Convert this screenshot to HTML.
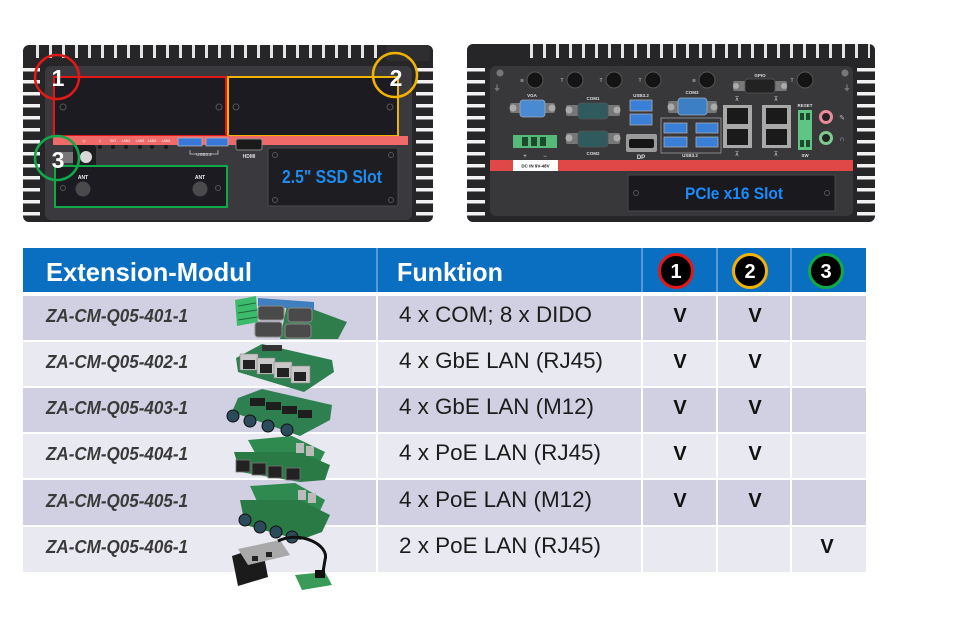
<!DOCTYPE html>
<html><head><meta charset="utf-8"><style>
html,body{margin:0;padding:0;background:#fff;}
svg{display:block;font-family:"Liberation Sans",Arial,sans-serif;}
</style></head><body>
<svg width="960" height="640" viewBox="0 0 960 640" xmlns="http://www.w3.org/2000/svg">
<defs>
<pattern id="vg" x="0" y="0" width="13" height="30" patternUnits="userSpaceOnUse"><rect x="10" width="3" height="30" fill="#e4e4e4"/></pattern>
<pattern id="hg" x="0" y="0" width="30" height="12" patternUnits="userSpaceOnUse"><rect y="8" width="30" height="3.5" fill="#f2f2f2"/></pattern>
</defs>
<rect width="960" height="640" fill="#fff"/>

<!-- ============ LEFT DEVICE ============ -->
<rect x="23" y="45" width="410" height="177" rx="6" fill="#262628"/>
<rect x="32" y="45" width="352" height="13" fill="url(#vg)"/>
<rect x="386" y="45" width="44" height="16" rx="3" fill="#2e2e30"/>
<rect x="23" y="66" width="17" height="150" fill="url(#hg)"/>
<rect x="416" y="66" width="17" height="150" fill="url(#hg)"/>
<rect x="45" y="66" width="367" height="154" rx="6" fill="#3a3a3e"/>
<!-- slot 1 / 2 -->
<rect x="54" y="77" width="172" height="59" fill="#1c1b21" stroke="#e01818" stroke-width="2"/>
<rect x="228" y="77" width="170" height="59" fill="#1c1b21" stroke="#f2b300" stroke-width="2"/>
<g fill="none" stroke="#555" stroke-width="1"><circle cx="63" cy="107" r="3"/><circle cx="219" cy="107" r="3"/><circle cx="236" cy="107" r="3"/><circle cx="390" cy="107" r="3"/></g>
<!-- strip -->
<rect x="53" y="136" width="355" height="9" fill="#f06a6a"/>
<g fill="#fff" font-size="3.5" text-anchor="middle"><text x="84" y="142">◎</text><text x="100" y="142">▯</text><text x="113" y="142">SIO</text><text x="126" y="142">LAN1</text><text x="140" y="142">LAN2</text><text x="152" y="142">LAN3</text><text x="166" y="142">LAN4</text></g>
<g fill="#1a1a1a"><circle cx="86" cy="147" r="2"/><circle cx="100" cy="147" r="2"/><circle cx="113" cy="147" r="2"/><circle cx="126" cy="147" r="2"/><circle cx="140" cy="147" r="2"/><circle cx="152" cy="147" r="2"/><circle cx="166" cy="147" r="2"/></g>
<rect x="178" y="138" width="24" height="8" fill="#3878d8" stroke="#bbb" stroke-width="0.7"/>
<rect x="206" y="138" width="22" height="8" fill="#3878d8" stroke="#bbb" stroke-width="0.7"/>
<path d="M190 150 V154 H218 V150" fill="none" stroke="#ccc" stroke-width="0.7"/>
<text x="204" y="156" font-size="4.5" fill="#ddd" text-anchor="middle">USB3.2</text>
<rect x="236" y="139" width="26" height="11" rx="2" fill="#1a1a1a" stroke="#888" stroke-width="1"/>
<text x="249" y="158" font-size="5" font-weight="bold" fill="#ddd" text-anchor="middle">HDMI</text>
<rect x="60" y="152" width="13" height="11" fill="#777"/>
<rect x="73" y="145" width="23" height="22" rx="3" fill="#1d1d20"/>
<circle cx="86" cy="157" r="6" fill="#d8d8d8"/>
<!-- SSD -->
<rect x="268" y="148" width="130" height="58" rx="2" fill="#1e1d22" stroke="#4a4a4e" stroke-width="1"/>
<g fill="none" stroke="#555"><circle cx="275" cy="155" r="2.5"/><circle cx="391" cy="155" r="2.5"/><circle cx="275" cy="200" r="2.5"/><circle cx="391" cy="200" r="2.5"/></g>
<text x="282" y="183" font-size="18" font-weight="bold" fill="#1d8cf0" textLength="100" lengthAdjust="spacingAndGlyphs">2.5" SSD Slot</text>
<!-- slot 3 -->
<rect x="55" y="166" width="172" height="41" fill="#1c1b21" stroke="#11a84a" stroke-width="2"/>
<circle cx="83" cy="189" r="7.5" fill="#4a4a4c"/><circle cx="200" cy="189" r="7.5" fill="#4a4a4c"/>
<text x="83" y="179" font-size="5" font-weight="bold" fill="#eee" text-anchor="middle">ANT</text>
<text x="200" y="179" font-size="5" font-weight="bold" fill="#eee" text-anchor="middle">ANT</text>
<g fill="none" stroke="#555"><circle cx="63" cy="188" r="2.5"/><circle cx="218" cy="188" r="2.5"/></g>
<!-- numbered circles -->
<circle cx="57" cy="77" r="22" fill="none" stroke="#e01818" stroke-width="2.5"/>
<text x="58" y="86" font-size="23" font-weight="bold" fill="#fff" text-anchor="middle">1</text>
<circle cx="395" cy="75" r="22" fill="none" stroke="#f2b300" stroke-width="2.5"/>
<text x="396" y="86" font-size="23" font-weight="bold" fill="#fff" text-anchor="middle">2</text>
<circle cx="57" cy="158" r="22" fill="none" stroke="#11a84a" stroke-width="2.5"/>
<text x="58" y="168" font-size="23" font-weight="bold" fill="#fff" text-anchor="middle">3</text>

<!-- ============ RIGHT DEVICE ============ -->
<rect x="467" y="44" width="408" height="178" rx="6" fill="#262628"/>
<rect x="520" y="44" width="350" height="14" fill="url(#vg)"/>
<rect x="467" y="68" width="18" height="148" fill="url(#hg)"/>
<rect x="857" y="68" width="18" height="148" fill="url(#hg)"/>
<rect x="490" y="66" width="363" height="150" rx="6" fill="#38383b"/>
<g fill="#777"><circle cx="500" cy="73" r="3.5"/><circle cx="845" cy="73" r="3.5"/></g>
<g fill="#ccc" font-size="7" text-anchor="middle"><text x="497" y="90">⏚</text><text x="847" y="90">⏚</text></g>
<!-- antennas -->
<g fill="#141414" stroke="#555" stroke-width="1">
<circle cx="535" cy="80" r="8"/><circle cx="575" cy="80" r="8"/><circle cx="614" cy="80" r="8"/><circle cx="653" cy="80" r="8"/><circle cx="707" cy="80" r="8"/><circle cx="805" cy="80" r="8"/></g>
<g fill="#ccc" font-size="5" text-anchor="middle"><text x="522" y="82">≋</text><text x="562" y="82">T</text><text x="601" y="82">T</text><text x="640" y="82">T</text><text x="694" y="82">≋</text><text x="792" y="82">T</text></g>
<!-- labels -->
<g fill="#ddd" font-size="4.5" font-weight="bold" text-anchor="middle">
<text x="532" y="97">VGA</text><text x="593" y="100">COM1</text><text x="641" y="97">USB3.2</text><text x="692" y="94">COM3</text><text x="760" y="77">GPIO</text><text x="805" y="107">RESET</text><text x="593" y="155">COM2</text><text x="805" y="157">SW</text><text x="690" y="157">USB3.2</text></g>
<!-- VGA -->
<rect x="510" y="103" width="45" height="10" rx="2" fill="#777"/>
<circle cx="513" cy="108" r="3.5" fill="#aaa"/><circle cx="552" cy="108" r="3.5" fill="#aaa"/>
<rect x="520" y="100" width="25" height="17" rx="3" fill="#4a8ad0" stroke="#9ab" stroke-width="0.8"/>
<!-- COM1/COM2 -->
<rect x="566" y="105" width="54" height="11" rx="2" fill="#777"/>
<circle cx="569" cy="110" r="3.5" fill="#aaa"/><circle cx="617" cy="110" r="3.5" fill="#aaa"/>
<rect x="578" y="103" width="30" height="16" rx="3" fill="#2f5a5e" stroke="#555" stroke-width="0.8"/>
<rect x="566" y="133" width="54" height="11" rx="2" fill="#777"/>
<circle cx="569" cy="138" r="3.5" fill="#aaa"/><circle cx="617" cy="138" r="3.5" fill="#aaa"/>
<rect x="578" y="131" width="30" height="16" rx="3" fill="#2f5a5e" stroke="#555" stroke-width="0.8"/>
<!-- DC terminal -->
<rect x="513" y="135" width="44" height="13" fill="#55b97a"/>
<g fill="#1e4a2c"><rect x="522" y="137" width="6" height="9"/><rect x="531" y="137" width="6" height="9"/><rect x="540" y="137" width="6" height="9"/></g>
<g fill="#ddd" font-size="6" text-anchor="middle"><text x="525" y="158">+</text><text x="545" y="158">−</text></g>
<!-- USB stack / DP -->
<rect x="630" y="100" width="22" height="11" fill="#3a80d8" stroke="#aaa" stroke-width="0.8"/>
<rect x="630" y="114" width="22" height="11" fill="#3a80d8" stroke="#aaa" stroke-width="0.8"/>
<rect x="626" y="134" width="31" height="18" rx="2" fill="#9a9a9a"/>
<rect x="629" y="139" width="25" height="9" rx="2" fill="#151515"/>
<text x="641" y="159" font-size="6" font-weight="bold" fill="#ddd" text-anchor="middle">DP</text>
<!-- COM3 -->
<rect x="668" y="101" width="49" height="12" rx="2" fill="#777"/>
<circle cx="671" cy="107" r="3.5" fill="#aaa"/><circle cx="714" cy="107" r="3.5" fill="#aaa"/>
<rect x="678" y="98" width="29" height="17" rx="3" fill="#3d7fc5" stroke="#9ab" stroke-width="0.8"/>
<!-- USB x4 -->
<rect x="661" y="118" width="60" height="35" fill="none" stroke="#888" stroke-width="1"/>
<g fill="#3a80d8" stroke="#aaa" stroke-width="0.8"><rect x="664" y="123" width="23" height="10"/><rect x="696" y="123" width="22" height="10"/><rect x="664" y="137" width="23" height="10"/><rect x="696" y="137" width="22" height="10"/></g>
<!-- LAN -->
<rect x="723" y="105" width="29" height="43" fill="#a8a8a8"/>
<rect x="727" y="108" width="21" height="16" fill="#1a1a1a"/><rect x="727" y="129" width="21" height="16" fill="#1a1a1a"/>
<rect x="762" y="105" width="29" height="43" fill="#a8a8a8"/>
<rect x="766" y="108" width="21" height="16" fill="#1a1a1a"/><rect x="766" y="129" width="21" height="16" fill="#1a1a1a"/>
<g fill="#ccc" font-size="6" text-anchor="middle"><text x="737" y="101">⊼</text><text x="776" y="101">⊼</text><text x="737" y="156">⊼</text><text x="776" y="156">⊼</text></g>
<!-- GPIO -->
<rect x="733" y="81" width="54" height="10" rx="2" fill="#777"/>
<circle cx="736" cy="86" r="3" fill="#aaa"/><circle cx="784" cy="86" r="3" fill="#aaa"/>
<rect x="745" y="79" width="30" height="14" rx="3" fill="#222" stroke="#555" stroke-width="0.8"/>
<!-- reset terminal -->
<rect x="798" y="110" width="14" height="40" fill="#5fc584"/>
<g fill="#1e4a2c"><rect x="800" y="113" width="4" height="7"/><rect x="806" y="113" width="4" height="7"/><rect x="800" y="140" width="4" height="7"/><rect x="806" y="140" width="4" height="7"/></g>
<!-- audio -->
<circle cx="826" cy="117" r="5.5" fill="#222" stroke="#e88a9a" stroke-width="3"/>
<circle cx="826" cy="138" r="5.5" fill="#222" stroke="#7ec890" stroke-width="3"/>
<g fill="#bbb" font-size="7" text-anchor="middle"><text x="842" y="120">✎</text><text x="842" y="141">∩</text></g>
<!-- red strip -->
<rect x="490" y="160" width="363" height="11" fill="#e04848"/>
<rect x="513" y="160" width="45" height="11" fill="#fff"/>
<text x="535.5" y="167.5" font-size="4.5" font-weight="bold" fill="#222" text-anchor="middle">DC IN 9V-48V</text>
<!-- PCIe -->
<rect x="628" y="175" width="207" height="36" fill="#1a1a1e" stroke="#48484c" stroke-width="1"/>
<g fill="none" stroke="#555"><circle cx="636" cy="193" r="2.5"/><circle cx="827" cy="193" r="2.5"/></g>
<text x="685" y="199" font-size="17" font-weight="bold" fill="#1a8cff" textLength="98" lengthAdjust="spacingAndGlyphs">PCIe x16 Slot</text>

<!-- ============ TABLE ============ -->
<rect x="23" y="248" width="843" height="44" fill="#0b6fc1"/>
<g stroke="#6fa8e0" stroke-width="1.5"><line x1="377" y1="248" x2="377" y2="292"/><line x1="642" y1="248" x2="642" y2="292"/><line x1="717" y1="248" x2="717" y2="292"/><line x1="791" y1="248" x2="791" y2="292"/></g>
<text x="46" y="281" font-size="26" font-weight="bold" fill="#fff" textLength="206" lengthAdjust="spacingAndGlyphs">Extension-Modul</text>
<text x="397" y="281" font-size="26" font-weight="bold" fill="#fff" textLength="106" lengthAdjust="spacingAndGlyphs">Funktion</text>
<circle cx="676" cy="271" r="16.5" fill="#000" stroke="#e01818" stroke-width="3"/>
<circle cx="750" cy="271" r="16.5" fill="#000" stroke="#f2b300" stroke-width="3"/>
<circle cx="826" cy="271" r="16.5" fill="#000" stroke="#11a84a" stroke-width="3"/>
<g font-size="20" font-weight="bold" fill="#fff" text-anchor="middle"><text x="676" y="278">1</text><text x="750" y="278">2</text><text x="826" y="278">3</text></g>

<!-- rows -->
<g fill="#d0d0e2">
<rect x="23" y="296" width="353" height="44"/><rect x="378" y="296" width="263" height="44"/><rect x="643" y="296" width="73" height="44"/><rect x="718" y="296" width="72" height="44"/><rect x="792" y="296" width="74" height="44"/>
<rect x="23" y="388" width="353" height="44"/><rect x="378" y="388" width="263" height="44"/><rect x="643" y="388" width="73" height="44"/><rect x="718" y="388" width="72" height="44"/><rect x="792" y="388" width="74" height="44"/>
<rect x="23" y="480" width="353" height="45"/><rect x="378" y="480" width="263" height="45"/><rect x="643" y="480" width="73" height="45"/><rect x="718" y="480" width="72" height="45"/><rect x="792" y="480" width="74" height="45"/>
</g>
<g fill="#e9e9f1">
<rect x="23" y="342" width="353" height="44"/><rect x="378" y="342" width="263" height="44"/><rect x="643" y="342" width="73" height="44"/><rect x="718" y="342" width="72" height="44"/><rect x="792" y="342" width="74" height="44"/>
<rect x="23" y="434" width="353" height="44"/><rect x="378" y="434" width="263" height="44"/><rect x="643" y="434" width="73" height="44"/><rect x="718" y="434" width="72" height="44"/><rect x="792" y="434" width="74" height="44"/>
<rect x="23" y="527" width="353" height="45"/><rect x="378" y="527" width="263" height="45"/><rect x="643" y="527" width="73" height="45"/><rect x="718" y="527" width="72" height="45"/><rect x="792" y="527" width="74" height="45"/>
</g>

<g font-size="18" font-weight="bold" font-style="italic" fill="#3a3a3a">
<text x="46" y="322" textLength="142" lengthAdjust="spacingAndGlyphs">ZA-CM-Q05-401-1</text>
<text x="46" y="368" textLength="142" lengthAdjust="spacingAndGlyphs">ZA-CM-Q05-402-1</text>
<text x="46" y="414" textLength="142" lengthAdjust="spacingAndGlyphs">ZA-CM-Q05-403-1</text>
<text x="46" y="460" textLength="142" lengthAdjust="spacingAndGlyphs">ZA-CM-Q05-404-1</text>
<text x="46" y="507" textLength="142" lengthAdjust="spacingAndGlyphs">ZA-CM-Q05-405-1</text>
<text x="46" y="553" textLength="142" lengthAdjust="spacingAndGlyphs">ZA-CM-Q05-406-1</text>
</g>
<g font-size="22" fill="#1c1c1c">
<text x="399" y="322" textLength="193" lengthAdjust="spacingAndGlyphs">4 x COM; 8 x DIDO</text>
<text x="399" y="368" textLength="204" lengthAdjust="spacingAndGlyphs">4 x GbE LAN (RJ45)</text>
<text x="399" y="414" textLength="195" lengthAdjust="spacingAndGlyphs">4 x GbE LAN (M12)</text>
<text x="399" y="460" textLength="202" lengthAdjust="spacingAndGlyphs">4 x PoE LAN (RJ45)</text>
<text x="399" y="507" textLength="193" lengthAdjust="spacingAndGlyphs">4 x PoE LAN (M12)</text>
<text x="399" y="553" textLength="202" lengthAdjust="spacingAndGlyphs">2 x PoE LAN (RJ45)</text>
</g>
<g font-size="20" font-weight="bold" fill="#111" text-anchor="middle">
<text x="680" y="322">V</text><text x="755" y="322">V</text>
<text x="680" y="368">V</text><text x="755" y="368">V</text>
<text x="680" y="414">V</text><text x="755" y="414">V</text>
<text x="680" y="460">V</text><text x="755" y="460">V</text>
<text x="680" y="507">V</text><text x="755" y="507">V</text>
<text x="827" y="553">V</text>
</g>

<!-- module pictures -->
<!-- row1 -->
<polygon points="288,300 347,322 338,339 280,339" fill="#2f7d4a"/>
<polygon points="235,300 256,296 258,322 237,326" fill="#3dbb6c"/>
<g stroke="#1e6a3a" stroke-width="1"><line x1="238" y1="306" x2="256" y2="303"/><line x1="238" y1="313" x2="257" y2="310"/><line x1="238" y1="320" x2="257" y2="317"/></g>
<polygon points="258,298 314,302 314,310 258,306" fill="#3f7fbf"/>
<g fill="#4a4a4a" stroke="#8a8a8a" stroke-width="1">
<rect x="258" y="306" width="26" height="14" rx="3"/><rect x="288" y="308" width="24" height="14" rx="3"/>
<rect x="255" y="322" width="27" height="15" rx="3"/><rect x="285" y="324" width="26" height="14" rx="3"/></g>
<!-- row2 -->
<polygon points="236,358 262,344 332,360 334,372 304,392 238,372" fill="#2f8050"/>
<rect x="262" y="345" width="20" height="6" fill="#333"/>
<g fill="#c8c8c8" stroke="#888" stroke-width="0.6">
<rect x="240" y="354" width="18" height="16"/><rect x="257" y="358" width="18" height="16"/><rect x="274" y="362" width="18" height="16"/><rect x="291" y="366" width="19" height="17"/></g>
<g fill="#222"><rect x="243" y="360" width="12" height="9"/><rect x="260" y="364" width="12" height="9"/><rect x="277" y="368" width="12" height="9"/><rect x="294" y="372" width="12" height="9"/></g>
<!-- row3 -->
<polygon points="238,398 262,389 332,405 330,420 300,436 232,412" fill="#2f8050"/>
<g fill="#1e1e1e"><rect x="250" y="398" width="15" height="8"/><rect x="266" y="402" width="15" height="8"/><rect x="282" y="406" width="15" height="8"/><rect x="298" y="410" width="14" height="8"/></g>
<g fill="#2b4a5a" stroke="#111" stroke-width="1"><circle cx="233" cy="416" r="6"/><circle cx="250" cy="421" r="6"/><circle cx="268" cy="426" r="6"/><circle cx="287" cy="430" r="6"/></g>
<!-- row4 -->
<polygon points="248,440 292,436 325,452 318,466 260,462" fill="#2f8a50"/>
<polygon points="234,452 300,452 330,465 325,480 300,482 240,472" fill="#2a7a46"/>
<rect x="296" y="443" width="8" height="10" fill="#bbb"/><rect x="306" y="446" width="8" height="10" fill="#bbb"/>
<g fill="#222" stroke="#777" stroke-width="0.8"><rect x="236" y="460" width="14" height="12"/><rect x="252" y="463" width="14" height="12"/><rect x="268" y="466" width="14" height="12"/><rect x="286" y="468" width="14" height="12"/></g>
<!-- row5 -->
<polygon points="250,486 295,483 325,500 318,515 260,508" fill="#2f8a50"/>
<polygon points="240,500 300,500 330,515 322,532 300,540 245,525" fill="#2a7a46"/>
<rect x="298" y="490" width="8" height="10" fill="#bbb"/><rect x="308" y="493" width="8" height="10" fill="#bbb"/>
<g fill="#2b4a5a" stroke="#111" stroke-width="1"><circle cx="245" cy="520" r="6"/><circle cx="260" cy="527" r="6"/><circle cx="276" cy="532" r="6"/><circle cx="292" cy="537" r="6"/></g>
<!-- row6 -->
<polygon points="232,556 262,546 268,577 238,586" fill="#1b1b1b"/>
<polygon points="238,549 280,540 290,555 248,565" fill="#a9a9a9"/>
<g fill="#222"><rect x="252" y="556" width="6" height="5"/><rect x="266" y="552" width="6" height="5"/></g>
<path d="M278,541 C300,530 330,545 325,560 L322,578" fill="none" stroke="#111" stroke-width="3"/>
<polygon points="295,575 325,572 332,585 302,590" fill="#3a9a5a"/>
<rect x="315" y="570" width="10" height="8" fill="#111"/>
</svg>
</body></html>
